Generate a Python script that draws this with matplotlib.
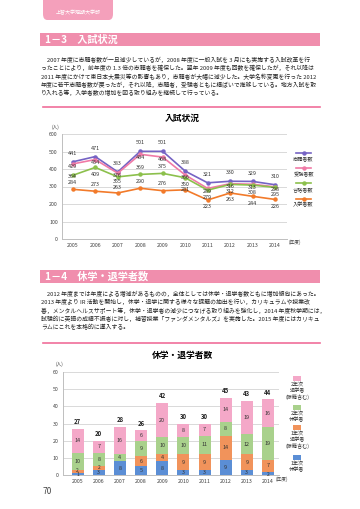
import numpy as np
import matplotlib.pyplot as plt
from matplotlib.patches import Rectangle, FancyBboxPatch
from matplotlib.lines import Line2D

plt.rcParams['font.family'] = ['Noto Sans CJK JP', 'DejaVu Sans']

# data
years = ['2005', '2006', '2007', '2008', '2009', '2010', '2011', '2012', '2013', '2014']
shigan = [441, 471, 383, 501, 501, 388, 321, 330, 329, 310]
juken = [429, 454, 376, 484, 468, 366, 289, 316, 313, 298]
goukaku = [364, 409, 355, 369, 375, 350, 279, 312, 308, 295]
nyugaku = [284, 273, 263, 290, 276, 281, 223, 263, 244, 226]
line_names = ['志願者数', '受験者数', '合格者数', '入学者数']

kyu1 = [1, 3, 8, 5, 8, 3, 3, 9, 3, 2]
tai1 = [2, 2, 0, 6, 4, 9, 9, 14, 9, 7]
kyu2 = [10, 8, 4, 9, 10, 10, 11, 8, 12, 19]
tai2 = [14, 7, 16, 6, 20, 8, 7, 14, 19, 16]
bar_names = ['1年次\n休学者', '1年次\n退学者\n(除籍含む)', '2年次\n休学者', '2年次\n退学者\n(除籍含む)']

para1 = [
    '\u30002007 年度に志願者数が一旦減少しているが，2008 年度に一般入試を 3 月にも実施する入試改革を行',
    'ったことにより，前年度の 1.3 倍の志願者を確保した。翌年 2009 年度も回数を確保したが，それ以降は',
    '2011 年度にかけて東日本大震災等の影響もあり，志願者が大幅に減少した。大学名称変更を行った 2012',
    '年度に若干志願者数が戻ったが，それ以降，志願者，受験者ともに横ばいで推移している。地方入試を取',
    'り入れる等，入学者数の増加を図る取り組みを継続して行っている。',
]
para2 = [
    '\u30002012 年度までは年度による増減があるものの，全体としては休学・退学者数ともに増加傾向にあった。',
    '2013 年度より IR 活動を開始し，休学・退学に関する様々な課題の抽出を行い，カリキュラムや授業改',
    '善，メンタルヘルスサポート等，休学・退学者の減少につなげる取り組みを強化し，2014 年度秋学期には，',
    '試験的に英語の成績不振者に対し，補習授業「ファンダメンタルズ」を実施した。2015 年度にはカリキュ',
    'ラムにこれを本格的に導入する。',
]

W, H = 360, 509
fig = plt.figure(figsize=(3.6, 5.09), dpi=100)

def fx(px):
    return px / W

def fy(py):
    return 1 - py / H

pink_bar = '#F08EAD'
grid_c = '#D9D9D9'
tick_c = '#404040'

# top tab
fig.patches.append(FancyBboxPatch((fx(43), fy(20)), fx(113) - fx(43), fy(-6) - fy(20),
                                  boxstyle='round,pad=0,rounding_size=0.012',
                                  transform=fig.transFigure, fc='#F4A0BB', ec='none'))
fig.text(fx(78), fy(13), '上智大学短期大学部', color='white', fontsize=3.6,
         ha='center', va='center')

# section headers
for y0, title in [(33, '1－3\u3000入試状況'), (270, '1－4\u3000休学・退学者数')]:
    fig.patches.append(Rectangle((fx(40), fy(y0 + 13)), fx(320) - fx(40), 13 / H,
                                 transform=fig.transFigure, fc=pink_bar, ec='none'))
    fig.text(fx(45), fy(y0 + 6.5), title, color='white', fontsize=7.3,
             fontweight='bold', ha='left', va='center')

# paragraphs
for lines, y0 in [(para1, 60), (para2, 294)]:
    for i, s in enumerate(lines):
        fig.text(fx(41), fy(y0 + i * 8.2), s, fontsize=4.2, color='#222222',
                 ha='left', va='center')

# separator lines
for ysep in [107, 343]:
    fig.add_artist(Line2D([fx(43), fx(320)], [fy(ysep), fy(ysep)],
                          transform=fig.transFigure, color='#F06E9A', lw=1.2))

# ---- line chart ----
ax = fig.add_axes([fx(62), fy(239), fx(287) - fx(62), (239 - 134) / H])
x = np.arange(len(years))
line_colors = ['#7563C4', '#F07AA6', '#8CC04C', '#F27A2A']
series = [shigan, juken, goukaku, nyugaku]
for vals, c in zip(series, line_colors):
    ax.plot(x, vals, color=c, lw=1.2, marker='o', ms=2.2, zorder=3)

lab = dict(ha='center', va='center', fontsize=3.9, color='#333333', textcoords='offset points')
# label offsets (points) so they sit roughly where the original put them
off_green = [-1, -5, -3.5, 5, 5, -5, -5, -5, -5, -5]
off_orange = [5, 5, 4, 5, 5, 0.5, -5, -5, -5, -5]
for i in x:
    ax.annotate(str(shigan[i]), (i, shigan[i]), xytext=(0, 6), **lab)
    ax.annotate(str(juken[i]), (i, juken[i]), xytext=(0, -2), **lab)
    ax.annotate(str(goukaku[i]), (i, goukaku[i]), xytext=(0, off_green[i]), **lab)
    ax.annotate(str(nyugaku[i]), (i, nyugaku[i]), xytext=(0, off_orange[i]), **lab)

ax.set_xlim(-0.48, 9.53)
ax.set_ylim(0, 600)
ax.set_yticks(range(0, 601, 100))
ax.set_xticks(x)
ax.set_xticklabels(years)
ax.tick_params(length=0, labelsize=3.8, labelcolor=tick_c, pad=3)
ax.grid(axis='y', color=grid_c, lw=0.7)
ax.set_axisbelow(True)
for s in ['top', 'right']:
    ax.spines[s].set_visible(False)
for s in ['left', 'bottom']:
    ax.spines[s].set_color('#BFBFBF')
    ax.spines[s].set_linewidth(0.7)
fig.text(fx(182), fy(118), '入試状況', fontsize=6.3, fontweight='bold', ha='center', va='center')
fig.text(fx(55), fy(127), '(人)', fontsize=3.4, color=tick_c, ha='center', va='center')
fig.text(fx(289), fy(242), '(年度)', fontsize=3.4, color=tick_c, ha='left', va='center')

# line legend
for k, (name, c) in enumerate(zip(line_names, line_colors)):
    ym = 153 + k * 15.2
    fig.add_artist(Line2D([fx(296), fx(311)], [fy(ym), fy(ym)], transform=fig.transFigure,
                          color=c, lw=1.2))
    fig.add_artist(Line2D([fx(303.5)], [fy(ym)], transform=fig.transFigure,
                          color=c, marker='o', ms=2.2))
    fig.text(fx(303.5), fy(ym + 6), name, fontsize=3.7, ha='center', va='center', color='#333333')

# ---- bar chart ----
bx = fig.add_axes([fx(63), fy(475), fx(279) - fx(63), (475 - 372) / H])
bar_colors = ['#5B8ED5', '#F1935B', '#A9D18C', '#F4A8C8']
stacks = [kyu1, tai1, kyu2, tai2]
bottom = np.zeros(len(years))
for k, (vals, c) in enumerate(zip(stacks, bar_colors)):
    v = np.array(vals)
    bx.bar(x, v, 0.57, bottom=bottom, color=c, zorder=3)
    for i in x:
        if v[i] > 0:
            yy = bottom[i] + v[i] / 2
            if v[i] <= 2:
                yy = bottom[i] + v[i] / 2 + (0.6 if k > 0 else -0.5)
            bx.text(i, yy, str(v[i]), ha='center', va='center',
                    fontsize=3.6 if v[i] <= 2 else 3.9, color='#333333', zorder=4)
    bottom = bottom + v
for i in x:
    bx.text(i, bottom[i] + 2.2, str(int(bottom[i])), ha='center', va='bottom',
            fontsize=4.3, fontweight='bold', color='#222222')

bx.set_xlim(-0.69, 9.52)
bx.set_ylim(0, 60)
bx.set_yticks(range(0, 61, 10))
bx.set_xticks(x)
bx.set_xticklabels(years)
bx.tick_params(length=0, labelsize=3.8, labelcolor=tick_c, pad=3)
bx.grid(axis='y', color=grid_c, lw=0.7)
bx.set_axisbelow(True)
for s in ['top', 'right']:
    bx.spines[s].set_visible(False)
for s in ['left', 'bottom']:
    bx.spines[s].set_color('#BFBFBF')
    bx.spines[s].set_linewidth(0.7)
fig.text(fx(182), fy(355), '休学・退学者数', fontsize=6.3, fontweight='bold', ha='center', va='center')
fig.text(fx(59), fy(364), '(人)', fontsize=3.4, color=tick_c, ha='center', va='center')
fig.text(fx(276), fy(479), '(年度)', fontsize=3.4, color=tick_c, ha='left', va='center')

# bar legend (top: 2年次退学者)
leg_y = [457, 427, 407, 378]
for name, c, ys in zip(bar_names, bar_colors, leg_y):
    fig.patches.append(Rectangle((fx(293), fy(ys + 2.5)), 8 / W, 5 / H,
                                 transform=fig.transFigure, fc=c, ec='none'))
    fig.text(fx(297), fy(ys + 4.5), name, fontsize=3.7, ha='center', va='top',
             color='#333333', linespacing=1.15)

fig.text(fx(43), fy(491), '70', fontsize=6, color='#444444', ha='left', va='center')

fig.savefig('out.png', dpi=100)
